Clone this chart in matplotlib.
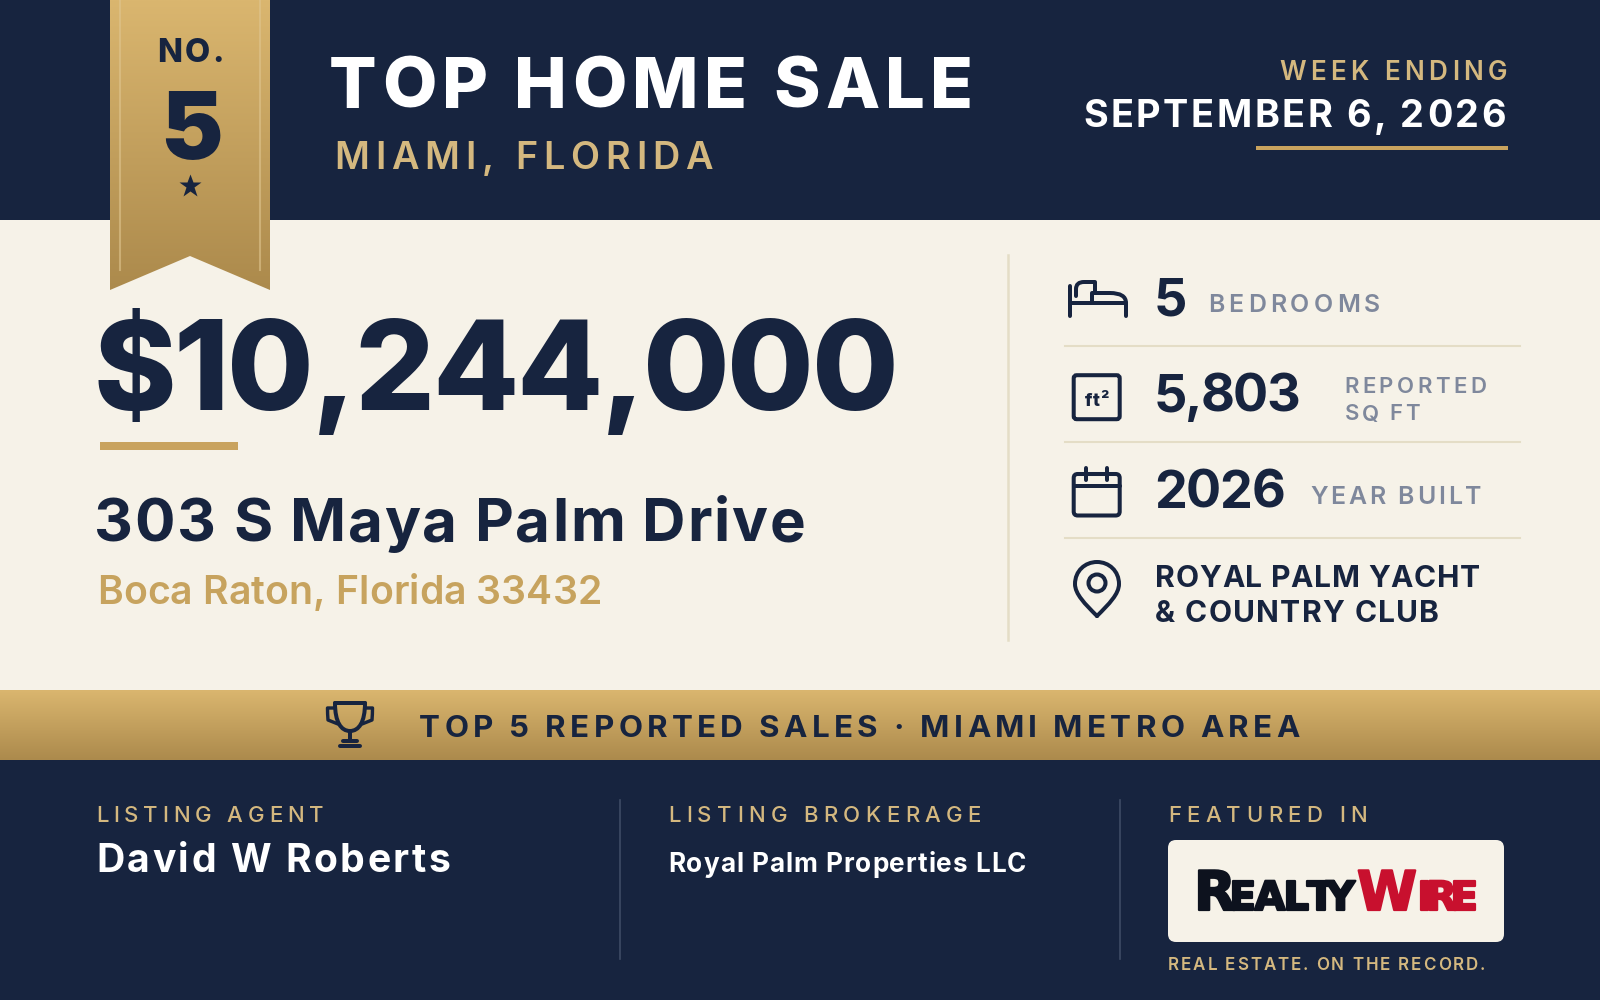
"""Top home sale card, drawn on a 1600x1000 pixel canvas."""
import numpy as np
import matplotlib
matplotlib.use("Agg")
import matplotlib.pyplot as plt
import matplotlib.patheffects as pe
from matplotlib.patches import Polygon, Rectangle, FancyBboxPatch, PathPatch, Circle
from matplotlib.path import Path
from matplotlib.text import Text
from matplotlib.transforms import Bbox

NAVY = "#17243F"; CREAM = "#F6F2E8"; GOLD_HI = "#DAB66F"; GOLD_LO = "#AC8A4C"
GOLD_TXT = "#D4B87F"; CITY = "#C7A35E"; GREY = "#7F889C"; RULE = "#E4DDC6"
FONT = "Inter"

RANK_LABEL = "NO."; RANK = "5"
TITLE = "TOP HOME SALE"; MARKET = "MIAMI, FLORIDA"
WEEK_LABEL = "WEEK ENDING"; WEEK = "SEPTEMBER 6, 2026"
PRICE = "$10,244,000"; ADDRESS = "303 S Maya Palm Drive"; CITY_LINE = "Boca Raton, Florida 33432"
BEDS = "5"; SQFT = "5,803"; YEAR = "2026"
BEDS_LABEL = "BEDROOMS"; SQFT_LABEL = ["REPORTED", "SQ FT"]; YEAR_LABEL = "YEAR BUILT"
COMMUNITY = ["ROYAL PALM YACHT", "& COUNTRY CLUB"]
BAND = "TOP 5 REPORTED SALES · MIAMI METRO AREA"
AGENT_LABEL = "LISTING AGENT"; AGENT = "David W Roberts"
BROKER_LABEL = "LISTING BROKERAGE"; BROKER = "Royal Palm Properties LLC"
FEATURE_LABEL = "FEATURED IN"; TAGLINE = "REAL ESTATE. ON THE RECORD."
LOGO = ["R", "EALTY", "W", "IRE"]
AREA_UNIT = "ft²"


class FitText(Text):
    """One string, drawn letter by letter so it spans a given pixel width."""
    def __init__(self, x, y, s, width, **kw):
        super().__init__(x, y, s, ha="left", va="baseline", parse_math=False, **kw)
        self.span = width

    def draw(self, renderer):
        s, x0 = self.get_text(), self.get_position()[0]
        fp = self.get_fontproperties()
        w = lambda t: renderer.get_text_width_height_descent(t, fp, False)[0]
        gap = (self.span - w(s)) / max(len(s) - 1, 1)
        for i, ch in enumerate(s):
            if ch != " ":
                self.set_text(ch); self.set_x(x0 + w(s[:i]) + i * gap)
                super().draw(renderer)
        self.set_text(s); self.set_x(x0)

    def get_window_extent(self, renderer=None, dpi=None):
        b = super().get_window_extent(renderer, dpi)
        return Bbox([[b.x0, b.y0], [b.x0 + self.span, b.y1]])


fig = plt.figure(figsize=(16, 10), dpi=100)
ax = fig.add_axes([0, 0, 1, 1]); ax.axis("off")


def put(x0, x1, base, cap, s, color=NAVY, weight="bold", family=FONT):
    # cap height in px, roughly; Inter renders a little tall so scale it down
    ax.add_artist(FitText(x0, base, s, x1 - x0, fontsize=cap * 0.94, color=color,
                          fontweight=weight, family=family, zorder=5))


def gradient(x0, x1, y0, y1, clip=None):
    c0, c1 = [np.array(matplotlib.colors.to_rgb(c)) for c in (GOLD_HI, GOLD_LO)]
    t = np.linspace(0, 1, 128)[:, None, None]
    im = ax.imshow(c0 + (c1 - c0) * t, extent=(x0, x1, y1, y0), aspect="auto", zorder=2)
    if clip is not None:
        ax.add_patch(clip); im.set_clip_path(clip)


def stroke(verts, codes=None, lw=4.0):
    ax.add_patch(PathPatch(Path(verts, codes), fill=False, ec=NAVY, lw=lw * 0.72,
                           capstyle="round", joinstyle="round", zorder=4))


# backgrounds
ax.add_patch(Rectangle((0, 0), 1600, 220, fc=NAVY, ec="none"))
ax.add_patch(Rectangle((0, 220), 1600, 470, fc=CREAM, ec="none"))
ax.add_patch(Rectangle((0, 760), 1600, 240, fc=NAVY, ec="none"))
gradient(0, 1600, 690, 760)

# ribbon
ribbon = Polygon([(110, 0), (270, 0), (270, 290), (190, 256), (110, 290)],
                 closed=True, fc="none", ec="none", zorder=2)
gradient(110, 270, 0, 290, ribbon)
for xr in (120, 260):
    ax.plot([xr, xr], [0, 270], color="#DFC58F", lw=1.5, alpha=0.6, zorder=3)
put(157, 224, 62, 25, RANK_LABEL, weight="heavy")
put(160, 220, 159, 72, RANK, weight="black")
ax.plot([190], [185.5], marker="*", ms=17, color=NAVY, mec="none", zorder=4)

# header
put(329, 973, 108, 54, TITLE, color="white", weight="heavy")
put(334, 713, 169, 29, MARKET, color=GOLD_TXT, weight="semibold")
put(1279, 1507, 79.5, 20, WEEK_LABEL, color=GOLD_TXT, weight="semibold")
put(1083, 1506, 127, 29, WEEK, color="white")
ax.add_patch(Rectangle((1256, 146), 252, 4, fc="#C9A35E", ec="none"))

# price block
put(93, 899, 410, 96, PRICE, weight="heavy")
ax.add_patch(Rectangle((100, 442), 138, 8, fc="#C9A35E", ec="none"))
put(94, 805, 541, 46, ADDRESS)
put(97, 602, 604, 30, CITY_LINE, color=CITY, weight="semibold")

# facts column
ax.plot([1008, 1008], [255, 640], color=RULE, lw=1.8)
for yr in (346, 442, 538):
    ax.plot([1065, 1520], [yr, yr], color=RULE, lw=1.5)

put(1154, 1186, 316, 40, BEDS)
put(1208, 1380, 312, 19, BEDS_LABEL, color=GREY, weight="semibold")
put(1154, 1300, 412, 40, SQFT)
put(1344, 1486, 393, 17, SQFT_LABEL[0], color=GREY, weight="semibold")
put(1345, 1420, 420.5, 17, SQFT_LABEL[1], color=GREY, weight="semibold")
put(1154, 1285, 508, 40, YEAR)
put(1310, 1481, 504, 19, YEAR_LABEL, color=GREY, weight="semibold")
put(1155, 1480, 587, 23, COMMUNITY[0])
put(1155, 1439, 622, 23, COMMUNITY[1])

# bed icon
M, L, C3, C4 = Path.MOVETO, Path.LINETO, Path.CURVE3, Path.CURVE4
stroke([(1070, 286), (1070, 316)])
stroke([(1070, 303), (1126, 303)])
stroke([(1126, 316), (1126, 303), (1126, 293), (1110, 293), (1092, 293), (1092, 303)],
       [M, L, C3, C3, L, L])
stroke([(1076, 296), (1076, 289), (1076, 282), (1084, 282), (1088, 282), (1090, 282), (1095, 282), (1095, 292)],
       [M, L, C3, C3, L, C3, C3, L])
# floor area icon
ax.add_patch(FancyBboxPatch((1073.7, 375.2), 46, 44, boxstyle="round,pad=0,rounding_size=3",
                            fc="none", ec=NAVY, lw=2.9, zorder=4))
put(1085, 1109, 406.5, 14, AREA_UNIT, weight="heavy")
# calendar icon
ax.add_patch(FancyBboxPatch((1073.7, 474), 46, 41.5, boxstyle="round,pad=0,rounding_size=4",
                            fc="none", ec=NAVY, lw=2.9, zorder=4))
stroke([(1073.7, 486), (1119.7, 486)])
stroke([(1086, 468), (1086, 480)])
stroke([(1107, 468), (1107, 480)])
# pin icon
stroke([(1097, 616), (1085, 604), (1075, 594), (1075, 584),
        (1075, 571), (1085, 562), (1097, 562),
        (1109, 562), (1119, 571), (1119, 584),
        (1119, 594), (1109, 604), (1097, 616)],
       [M, C4, C4, C4, C4, C4, C4, C4, C4, C4, C4, C4, C4])
ax.add_patch(Circle((1097, 583), 8.5, fc="none", ec=NAVY, lw=2.9, zorder=4))

# band
put(419, 1300, 737, 24, BAND)
stroke([(335, 703), (365, 703)])
stroke([(335, 703), (335, 722), (341, 731), (350, 731), (359, 731), (365, 722), (365, 703)],
       [M, C4, C4, C4, C4, C4, C4])
stroke([(335, 708), (327.5, 708), (327.5, 714), (328, 720), (338, 724)],
       [M, L, C3, C3, L], lw=3.4)
stroke([(365, 708), (372.5, 708), (372.5, 714), (372, 720), (362, 724)],
       [M, L, C3, C3, L], lw=3.4)
stroke([(350, 731), (350, 740)])
stroke([(343, 740.5), (357, 740.5)])
stroke([(340, 746), (360, 746)])

# footer
for xd in (620, 1120):
    ax.plot([xd, xd], [800, 959], color="#3E4B65", lw=1.2)
put(96, 323, 822.5, 17, AGENT_LABEL, color=GOLD_TXT, weight="medium")
put(96, 450, 872, 30, AGENT, color="white")
put(668, 981, 822.5, 17, BROKER_LABEL, color=GOLD_TXT, weight="medium")
put(668, 1026, 872, 20, BROKER, color="white")
put(1168, 1367, 822.5, 17, FEATURE_LABEL, color=GOLD_TXT, weight="medium")

ax.add_patch(FancyBboxPatch((1168, 840), 336, 102, boxstyle="round,pad=0,rounding_size=8",
                            fc=CREAM, ec="none", zorder=3))
# logo wordmark: big/small caps, narrow face thickened with a stroke
for (x0, x1, cap, s, col) in [(1194, 1226, 38, LOGO[0], "#0D121E"),
                              (1229, 1355, 28, LOGO[1], "#0D121E"),
                              (1357, 1413, 38, LOGO[2], "#C8102E"),
                              (1417, 1478, 28, LOGO[3], "#C8102E")]:
    t = FitText(x0, 910, s, x1 - x0, fontsize=cap * 1.03, color=col, fontweight="bold",
                family="Liberation Sans Narrow", zorder=5)
    t.set_path_effects([pe.withStroke(linewidth=1.6, foreground=col)])
    ax.add_artist(t)
put(1168, 1485, 970, 13, TAGLINE, color=GOLD_TXT, weight="semibold")

ax.set_xlim(0, 1600); ax.set_ylim(1000, 0)
fig.savefig("out.png", dpi=100)
